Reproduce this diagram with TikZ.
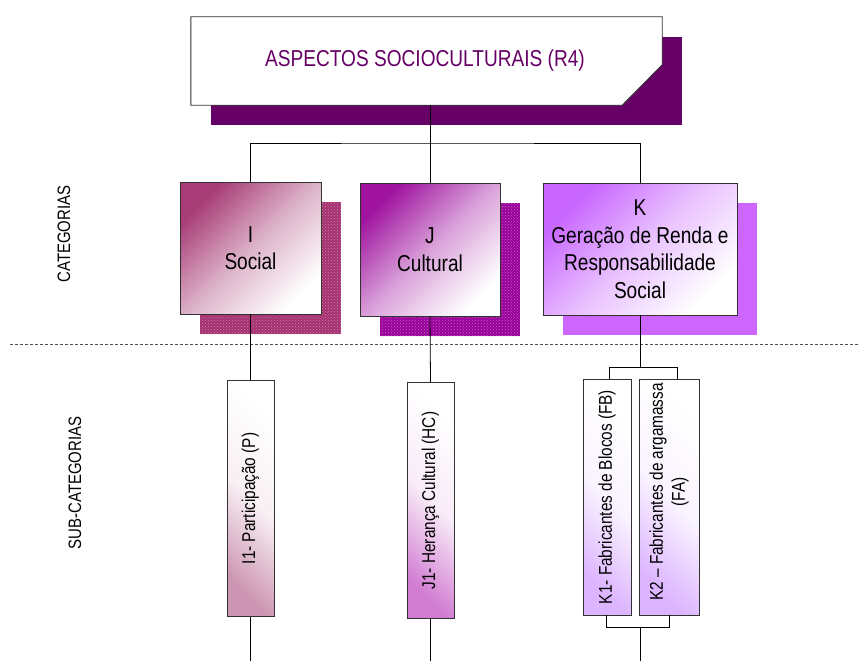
\documentclass[tikz,border=0pt]{standalone}
\usepackage{fontspec}
\setmainfont{Liberation Sans}[FakeStretch=0.83]
\usetikzlibrary{patterns,shadows}
\definecolor{titlepurple}{RGB}{102,0,102}
\definecolor{shI}{RGB}{165,48,112}
\definecolor{shJ}{RGB}{153,0,153}
\definecolor{shK}{RGB}{204,102,255}
\definecolor{gI}{RGB}{168,60,118}
\definecolor{gJ}{RGB}{160,20,160}
\definecolor{gK}{RGB}{200,100,255}
\definecolor{sI}{RGB}{205,150,178}
\definecolor{sJ}{RGB}{210,125,210}
\definecolor{sK}{RGB}{220,180,255}
\definecolor{edge}{RGB}{50,50,50}
\begin{document}
\begin{tikzpicture}[x=1pt,y=-1pt,
  conn/.style={draw=black, line width=0.8pt},
  catbox/.style={draw=edge, line width=0.9pt, minimum width=#1, minimum height=132,
    inner sep=0pt, align=center, font=\fontsize{23}{27.5}\selectfont},
  catfill/.style={top color=#1, bottom color=white, middle color=#1!40!white, shading angle=45},
  catshadow/.style={general shadow={shadow xshift=20pt, shadow yshift=-20pt, fill=#1,
    postaction={pattern=crosshatch dots, pattern color=#1!60!white}}},
  subbox/.style={draw=edge, line width=0.9pt, minimum width=#1, minimum height=236, inner sep=0pt},
  subfill/.style={bottom color=#1, top color=white, middle color=#1!15!white, shading angle=-45},
  subtext/.style={rotate=90, align=center, font=\fontsize{18.5}{22}\selectfont},
  sidelabel/.style={rotate=90, font=\fontsize{18}{22}\selectfont}
]
\useasboundingbox (0,0) rectangle (862,661);

% title
\path node[minimum width=471, minimum height=88, inner sep=0pt] (title) at (426.5,61) {};
\fill[titlepurple] ([shift={(20,20)}]title.north west) rectangle ([shift={(20,20)}]title.south east);
\draw[draw=edge, line width=0.9pt, fill=white] (title.north west) -- (title.north east)
  -- ([shift={(0,48)}]title.north east) -- ([shift={(-40,0)}]title.south east)
  -- (title.south west) -- cycle;
\node[text=titlepurple, font=\fontsize{23}{27}\selectfont] (titletext) at (425,61) {ASPECTOS SOCIOCULTURAIS (R4)};

% side labels
\node[sidelabel] (lcat) at (64,234) {CATEGORIAS};
\node[sidelabel] (lsub) at (75,483) {SUB-CATEGORIAS};

% dashed separator
\coordinate (dl) at (10,344);
\coordinate (dr) at (860,344);
\draw[draw=black!70, line width=0.7pt, dash pattern=on 3pt off 2pt] (dl) -- (dr);

% categories
\node[catbox=141, catfill=gI, catshadow=shI] (I) at (250.5,248) {I\\Social};
\node[catbox=140, catfill=gJ, catshadow=shJ, minimum height=133] (J) at (430,249.5) {J\\Cultural};
\node[catbox=194, catfill=gK, general shadow={shadow xshift=20pt, shadow yshift=-20pt, fill=shK}] (K) at (640,249)
  {K\\Geração de Renda e\\Responsabilidade\\Social};

% sub-categories
\node[subbox=47, subfill=sI] (I1) at (250.5,498.5) {};
\node[subtext] at (I1) {I1- Participação (P)};
\node[subbox=47, subfill=sJ] (J1) at (430.5,500.5) {};
\node[subtext] at (J1) {J1- Herança Cultural (HC)};
\node[subbox=48, subfill=sK] (K1) at (607,497) {};
\node[subtext] at (K1) {K1- Fabricantes de Blocos (FB)};
\node[subbox=60, subfill=sK] (K2) at (669,497) {};
\node[subtext] at (669,492) {K2 – Fabricantes de argamassa\\(FA)};

% connectors
\coordinate (hub) at (430,143);
\coordinate (bot) at (0,661);
\draw[conn] (title.south -| hub) -- (hub);
\draw[conn] (I.north) |- (hub) -| (K.north);
\draw[conn] (hub) -- (J.north);
\draw[conn] (I.south) -- (I1.north);
\draw[conn] (J.south) -- (J1.north);
\draw[conn] (I1.south) -- (I1.south |- bot);
\draw[conn] (J1.south) -- (J1.south |- bot);
\coordinate (kt) at (640,367);
\coordinate (kbl) at (609,367);
\coordinate (kbr) at (677,367);
\draw[conn] (K.south) -- (kt);
\draw[conn] (kbl |- K1.north) -- (kbl) -- (kbr) -- (kbr |- K2.north);
\coordinate (kb1) at (606,627);
\coordinate (kb2) at (669,627);
\coordinate (kbm) at (640,627);
\draw[conn] (kb1 |- K1.south) -- (kb1) -- (kb2) -- (kb2 |- K2.south);
\draw[conn] (kbm) -- (kbm |- bot);
\end{tikzpicture}
\end{document}
